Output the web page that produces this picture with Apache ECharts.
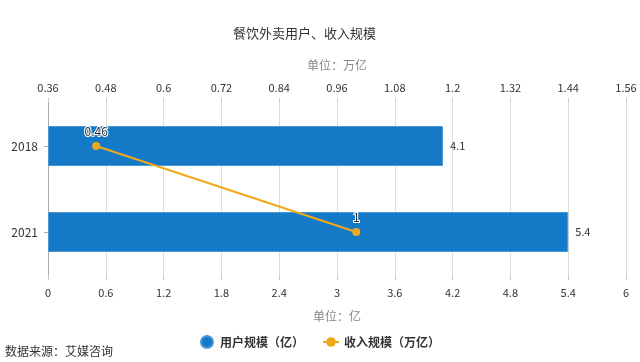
<!DOCTYPE html>
<html><head><meta charset="utf-8">
<script src="https://cdn.jsdelivr.net/npm/echarts@6/dist/echarts.min.js"></script>
<style>html,body{margin:0;padding:0;background:#fff}#c{width:640px;height:362px}</style>
</head><body><div id="c"></div>
<script>
const categories = ['2018', '2021'];
const users = [4.1, 5.4];
const revenue = [0.46, 1];
const bottomTicks = { min: 0, max: 6, interval: 0.6 };
const topTicks = { min: 0.36, max: 1.56, interval: 0.12 };

const font = '"Noto Sans CJK SC", "Microsoft YaHei", sans-serif';
const chart = echarts.init(document.getElementById('c'));
chart.setOption({
  animation: false,
  textStyle: { fontFamily: font },
  title: { text: '餐饮外卖用户、收入规模', left: 228, top: 22,
    textStyle: { fontSize: 13, fontWeight: 'normal', color: '#333', fontFamily: font } },
  legend: { bottom: 8, left: 'center', itemWidth: 16, itemHeight: 12, itemGap: 18,
    textStyle: { fontSize: 12, fontWeight: 'bold', color: '#333' },
    data: [{ name: '用户规模（亿）', icon: 'circle' }, { name: '收入规模（万亿）' }] },
  graphic: [{ type: 'text', left: 5, top: 345, style: { text: '数据来源：艾媒咨询', fill: '#333', fontSize: 12, fontFamily: font } }],
  grid: { left: 48, right: 14, top: 103, bottom: 87 },
  xAxis: [
    { type: 'value', position: 'bottom', min: bottomTicks.min, max: bottomTicks.max, interval: bottomTicks.interval,
      name: '单位：亿', nameLocation: 'middle', nameGap: 35, nameTextStyle: { color: '#888', fontSize: 12 },
      axisLine: { show: false }, axisTick: { show: true, lineStyle: { color: '#ccc' } },
      axisLabel: { color: '#333', fontSize: 11, margin: 12 },
      splitLine: { show: true, lineStyle: { color: '#ddd' } } },
    { type: 'value', position: 'top', min: topTicks.min, max: topTicks.max, interval: topTicks.interval,
      name: '单位：万亿', nameLocation: 'middle', nameGap: 32, nameTextStyle: { color: '#888', fontSize: 12 },
      axisLine: { show: false }, axisTick: { show: true, lineStyle: { color: '#ccc' } },
      axisLabel: { color: '#333', fontSize: 11, margin: 10 },
      splitLine: { show: false } }
  ],
  yAxis: { type: 'category', inverse: true, data: categories,
    axisLine: { show: true, lineStyle: { color: '#aaa' } },
    axisTick: { show: true, alignWithLabel: true, length: 4, lineStyle: { color: '#aaa' } },
    axisLabel: { color: '#333', fontSize: 12, margin: 10 } },
  series: [
    { name: '用户规模（亿）', type: 'bar', data: users, barWidth: 40, xAxisIndex: 0,
      itemStyle: { color: '#1479c6', borderColor: '#4a97d6', borderWidth: 1 },
      label: { show: true, position: 'right', color: '#333', fontSize: 11, distance: 7 } },
    { name: '收入规模（万亿）', type: 'line', data: revenue, xAxisIndex: 1,
      symbol: 'circle', symbolSize: 8, itemStyle: { color: '#f0a81a' }, lineStyle: { color: '#f0a81a', width: 2 },
      label: { show: true, position: 'top', color: '#333', fontSize: 12, textBorderColor: '#fff', textBorderWidth: 2 } }
  ]
});
</script></body></html>
